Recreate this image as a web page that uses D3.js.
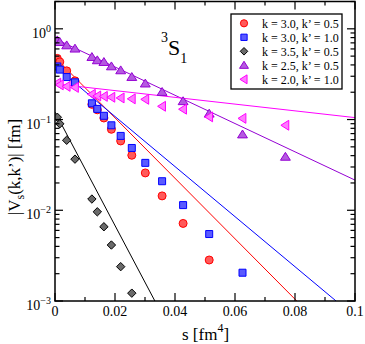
<!DOCTYPE html>
<html><head><meta charset="utf-8">
<script src="https://cdn.jsdelivr.net/npm/d3@7"></script>
<style>
html,body{margin:0;padding:0;background:#fff;}
svg{display:block;font-family:"Liberation Serif","Times New Roman",serif;}
</style></head>
<body>
<svg id="chart" width="365" height="344"></svg>
<script>
// ---- data ----
const sVals = [0.00077, 0.0016, 0.0039, 0.00666, 0.0123, 0.0141, 0.0163, 0.0188, 0.0219, 0.0256, 0.0301, 0.0357, 0.0427, 0.0514, 0.0625, 0.0768];
const redVals    = [0.472, 0.432, 0.344, 0.267, 0.147, 0.128, 0.104, 0.0781, 0.0581, 0.0404, 0.0258, 0.0144, 0.00716, 0.00283];
const blueVals   = [0.385, 0.355, 0.294, 0.257, 0.151, 0.131, 0.110, 0.0864, 0.0660, 0.0486, 0.0333, 0.0209, 0.0114, 0.00547, 0.00205];
const blackVals  = [0.106, 0.0898, 0.0591, 0.0366, 0.0133, 0.00962, 0.00658, 0.00414, 0.00239, 0.00122];
const purpleVals = [0.745, 0.713, 0.656, 0.604, 0.488, 0.449, 0.430, 0.385, 0.348, 0.294, 0.249, 0.201, 0.159, 0.116, 0.0684, 0.0388];
const pinkVals   = [0.252, 0.241, 0.232, 0.226, 0.190, 0.182, 0.180, 0.176, 0.173, 0.169, 0.167, 0.140, 0.130, 0.107, 0.103, 0.0865];
// fit lines: [s, V] end points
const redFit    = [[0, 0.484], [0.0806, 0.001]];
const blueFit   = [[0, 0.385], [0.0937, 0.001]];
const blackFit  = [[0, 0.121], [0.0333, 0.001]];
const purpleFit = [[0, 0.778], [0.1, 0.0215]];
const pinkFit   = [[0, 0.2474], [0.1, 0.105]];
const seriesNames = ["k = 3.0, k\u2019 = 0.5", "k = 3.0, k\u2019 = 1.0", "k = 3.5, k\u2019 = 0.5", "k = 2.5, k\u2019 = 0.5", "k = 2.0, k\u2019 = 1.0"];
const xTicks = [0, 0.02, 0.04, 0.06, 0.08, 0.1];
const xTickLabels = ["0", "0.02", "0.04", "0.06", "0.08", "0.1"];
const yTicks = [0.001, 0.01, 0.1, 1];
const yTickExps = ["\u22123", "\u22122", "\u22121", "0"];

// ---- layout ----
const L = 55, R = 355, T = 1.5, B = 301;
const x = d3.scaleLinear().domain([0, 0.1]).range([L, R]);
const y = d3.scaleLog().domain([0.001, 2]).range([B, T]);
const svg = d3.select("#chart");

svg.append("defs").append("clipPath").attr("id", "clip")
  .append("rect").attr("x", L).attr("y", T).attr("width", R - L).attr("height", B - T);

// symbols
const sym = {
  circle: r => d3.symbol().type(d3.symbolCircle).size(Math.PI * r * r)(),
  square: r => d3.symbol().type(d3.symbolSquare).size(4 * r * r)(),
  diamond: r => `M0,${-r}L${r},0L0,${r}L${-r},0Z`,
  up: r => `M0,${-r}L${r*1.1},${r*0.75}L${-r*1.1},${r*0.75}Z`,
  left: r => `M${-r},0L${r*0.75},${-r*1.1}L${r*0.75},${r*1.1}Z`
};
const styles = [
  {vals: redVals, fit: redFit, color: "#ff0000", fill: "#ff5a5a", shape: "circle", r: 4},
  {vals: blueVals, fit: blueFit, color: "#0000ff", fill: "#5a5aff", shape: "square", r: 3.5},
  {vals: blackVals, fit: blackFit, color: "#000000", fill: "#6a6a6a", shape: "diamond", r: 4.2},
  {vals: purpleVals, fit: purpleFit, color: "#9400d3", fill: "#b55ae0", shape: "up", r: 4.5},
  {vals: pinkVals, fit: pinkFit, color: "#ff00ff", fill: "#ff7aff", shape: "left", r: 4.5}
];

// lines
const line = d3.line().x(d => x(d[0])).y(d => y(d[1]));
const gl = svg.append("g").attr("clip-path", "url(#clip)");
styles.forEach(s => {
  gl.append("path").attr("d", line(s.fit)).attr("fill", "none")
    .attr("stroke", s.color).attr("stroke-width", 1);
});

// points
const gp = svg.append("g").attr("clip-path", "url(#clip)");
styles.forEach(s => {
  gp.selectAll(null).data(s.vals.map((v, i) => [sVals[i], v])).enter()
    .append("path")
    .attr("transform", d => `translate(${x(d[0])},${y(d[1])})`)
    .attr("d", sym[s.shape](s.r))
    .attr("fill", s.fill).attr("stroke", s.color).attr("stroke-width", 1);
});

// axes ticks (inward, all four sides)
const xMinor = d3.range(0.01, 0.1, 0.02);
const gAx = svg.append("g").attr("stroke", "#000").attr("stroke-width", 1.2);
xTicks.forEach(t => {
  gAx.append("line").attr("x1", x(t)).attr("x2", x(t)).attr("y1", B).attr("y2", B - 8);
  gAx.append("line").attr("x1", x(t)).attr("x2", x(t)).attr("y1", T).attr("y2", T + 8);
});
xMinor.forEach(t => {
  gAx.append("line").attr("x1", x(t)).attr("x2", x(t)).attr("y1", B).attr("y2", B - 4);
  gAx.append("line").attr("x1", x(t)).attr("x2", x(t)).attr("y1", T).attr("y2", T + 4);
});
const yAll = y.ticks();
yAll.forEach(t => {
  const major = yTicks.some(m => Math.abs(m - t) / m < 1e-6);
  const len = major ? 8 : 4.5;
  gAx.append("line").attr("x1", L).attr("x2", L + len).attr("y1", y(t)).attr("y2", y(t));
  gAx.append("line").attr("x1", R).attr("x2", R - len).attr("y1", y(t)).attr("y2", y(t));
});
svg.append("rect").attr("x", L).attr("y", T).attr("width", R - L).attr("height", B - T)
  .attr("fill", "none").attr("stroke", "#000").attr("stroke-width", 1.5);

// tick labels
const gt = svg.append("g").attr("font-size", 14).attr("fill", "#000");
xTicks.forEach((t, i) => {
  gt.append("text").attr("x", x(t)).attr("y", 316).attr("text-anchor", "middle").text(xTickLabels[i]);
});
yTicks.forEach((t, i) => {
  const tx = gt.append("text").attr("x", 51).attr("y", y(t) + 9).attr("text-anchor", "end");
  tx.append("tspan").text("10");
  tx.append("tspan").attr("dy", -6).attr("font-size", 10).text(yTickExps[i]);
});

// axis titles
const xt = svg.append("text").attr("x", 182).attr("y", 340).attr("font-size", 17);
xt.append("tspan").text("s [fm");
xt.append("tspan").attr("dy", -8).attr("font-size", 12).text("4");
xt.append("tspan").attr("dy", 8).text("]");

const yt = svg.append("text").attr("transform", "translate(20,167) rotate(-90)")
  .attr("text-anchor", "middle").attr("font-size", 17);
yt.append("tspan").text("|V");
yt.append("tspan").attr("dy", 4).attr("font-size", 12).text("s");
yt.append("tspan").attr("dy", -4).text("(k,k\u2019)| [fm]");

// title
const tt = svg.append("text").attr("x", 161).attr("y", 55).attr("font-size", 22);
tt.append("tspan").attr("font-size", 14).attr("dy", -13).text("3");
tt.append("tspan").attr("dy", 13).text("S");
tt.append("tspan").attr("font-size", 14).attr("dy", 8).text("1");

// legend
const lg = svg.append("g");
lg.append("rect").attr("x", 231).attr("y", 14).attr("width", 111).attr("height", 75)
  .attr("fill", "#fff").attr("stroke", "#000").attr("stroke-width", 1.3);
styles.forEach((s, i) => {
  const cy = 23.3 + i * 14;
  lg.append("path").attr("transform", `translate(244,${cy})`).attr("d", sym[s.shape](s.r * 0.9))
    .attr("fill", s.fill).attr("stroke", s.color).attr("stroke-width", 1);
  lg.append("text").attr("x", 262).attr("y", cy + 4.5).attr("font-size", 12).text(seriesNames[i]);
});
</script>
</body></html>
